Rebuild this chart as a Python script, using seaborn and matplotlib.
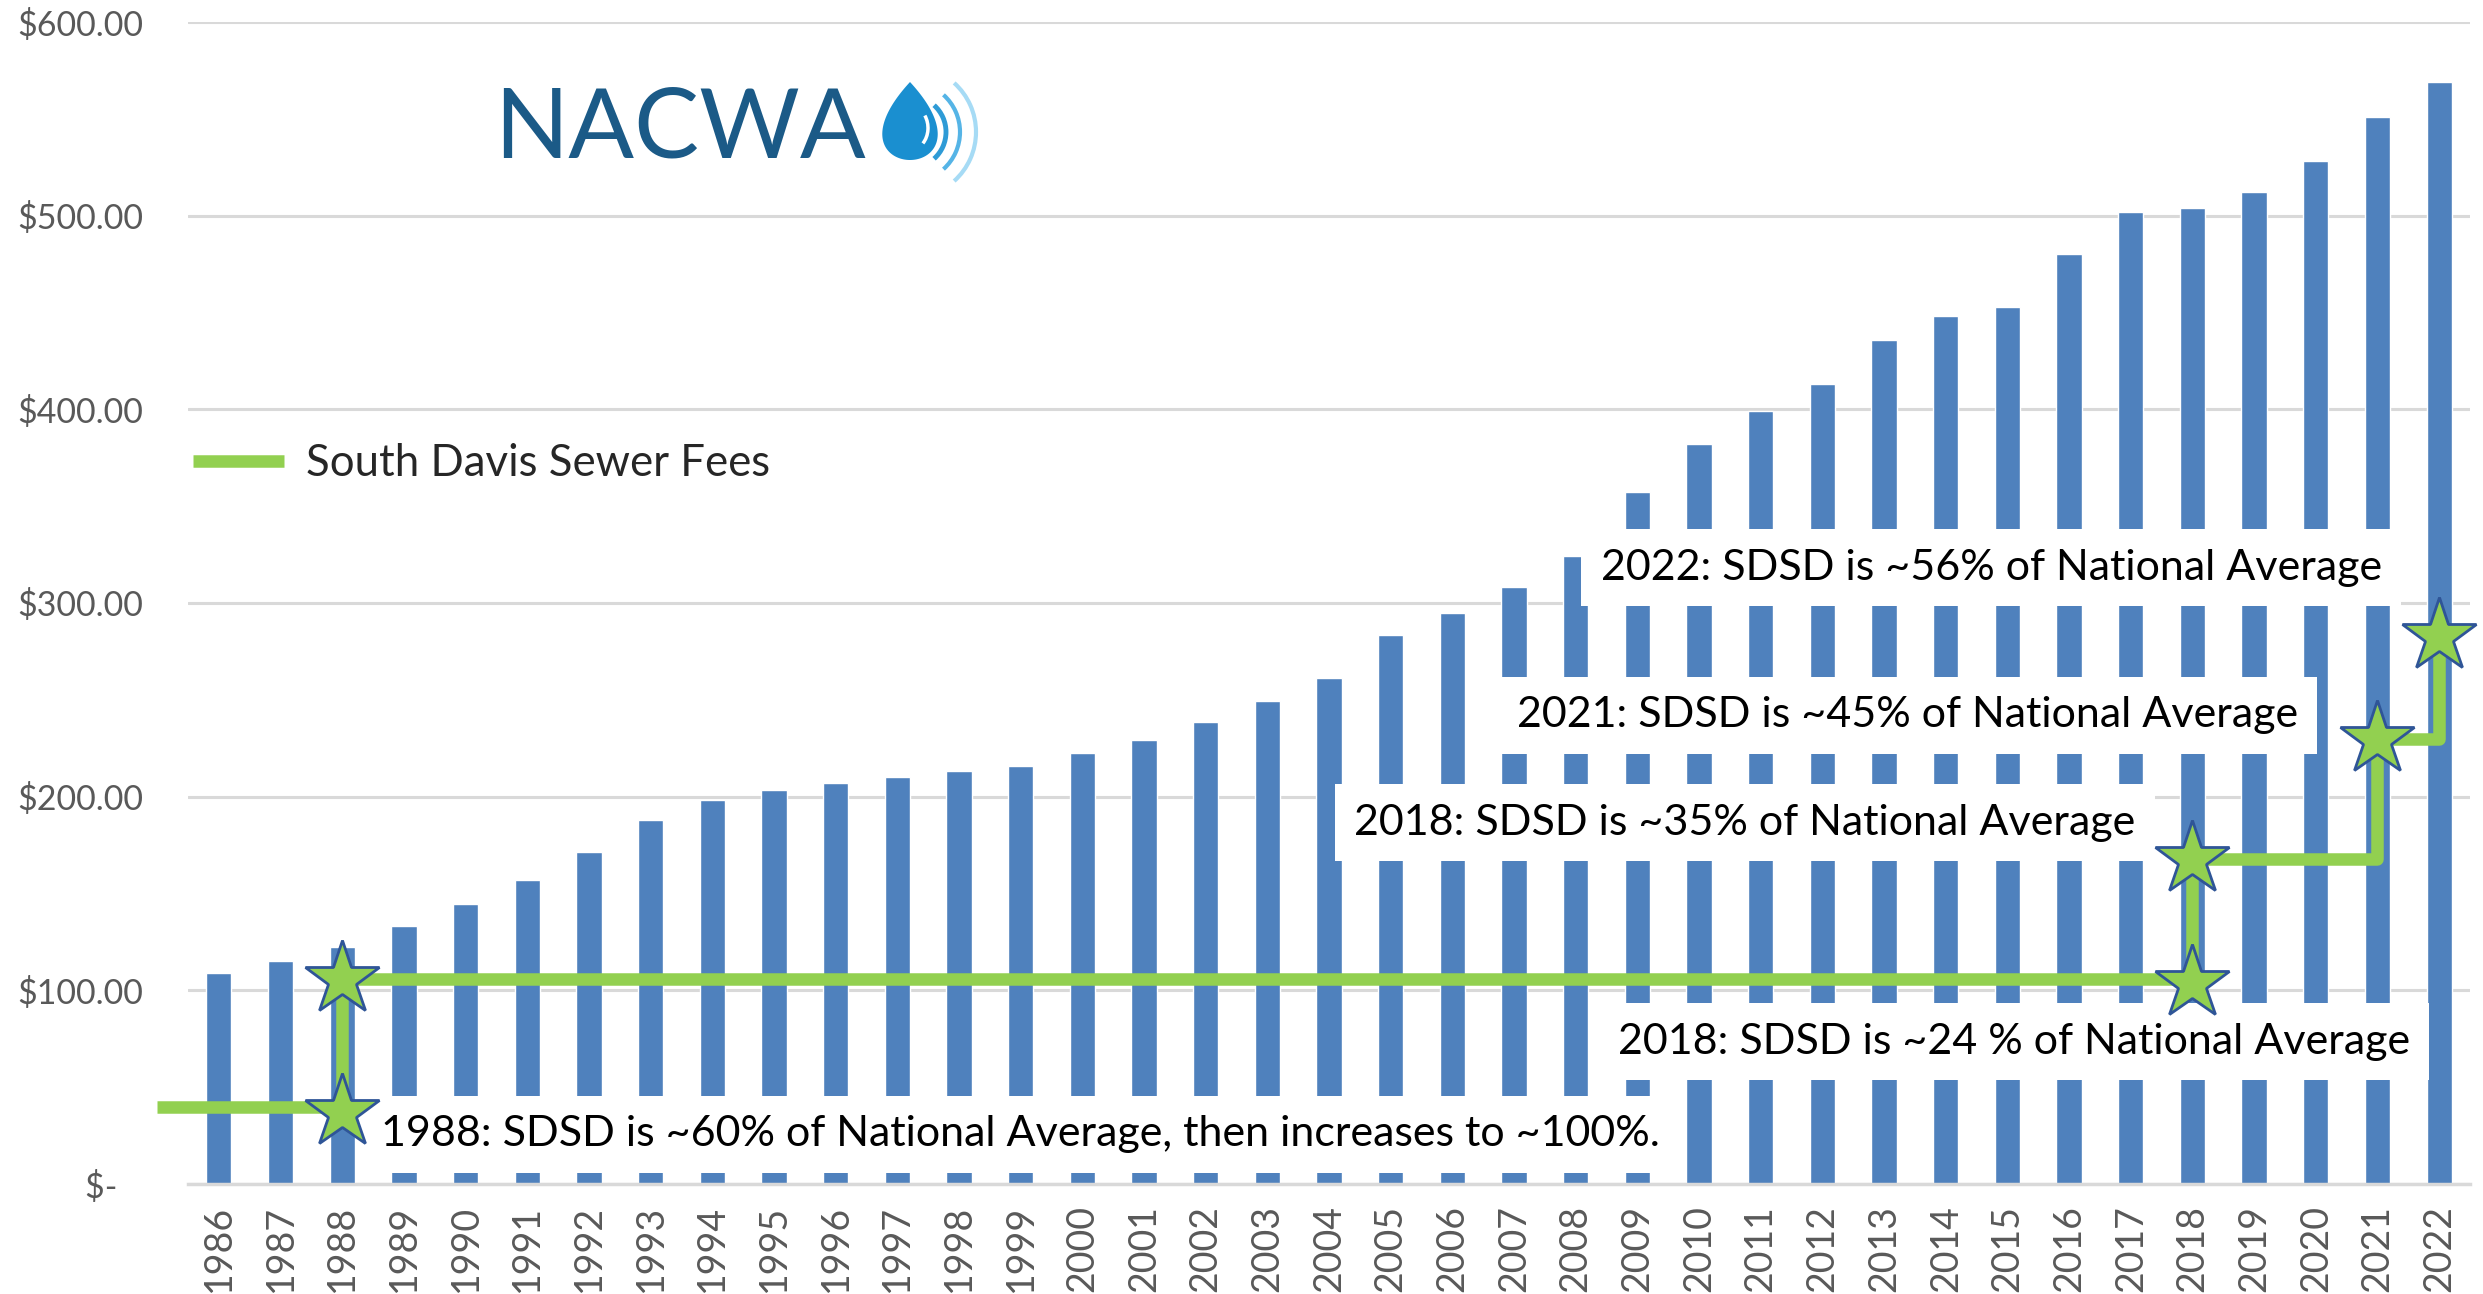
import numpy as np
import pandas as pd
import matplotlib
matplotlib.use("Agg")
import matplotlib.pyplot as plt
import seaborn as sns
from matplotlib.lines import Line2D
from matplotlib.patches import Polygon, Arc

# national average annual sewer charge (NACWA index)
years = list(range(1986, 2023))
national_avg = [109, 115, 122.5, 133, 144.5, 157, 171.5, 188, 198.5, 203.5,
                207, 210, 213.5, 216, 222.5, 229.5, 238.5, 249.5, 261.5, 283.5,
                295, 308.5, 324.5, 357.5, 382, 399, 413, 436, 448, 453,
                480, 502, 504, 512, 528, 551, 569]

# South Davis Sewer District fee, only the years where it changes
# (1985 is the lead-in stub drawn left of the axis)
sdsd_years = [1985, 1987, 1988, 2017, 2018, 2020, 2021, 2022]
sdsd_fees = [40, 40, 106, 106, 168, 168, 230, 283]

# star markers
star_years = [1988, 1988, 2018, 2018, 2021, 2022]
star_fees = [37, 106, 104, 168, 230, 283]

y_ticks = [0, 100, 200, 300, 400, 500, 600]
y_tick_labels = ["$-   ", "$100.00", "$200.00", "$300.00", "$400.00", "$500.00", "$600.00"]

notes = [
    "1988: SDSD is ~60% of National Average, then increases to ~100%.",
    "2018: SDSD is ~24 % of National Average",
    "2018: SDSD is ~35% of National Average",
    "2021: SDSD is ~45% of National Average",
    "2022: SDSD is ~56% of National Average",
]

BAR_BLUE = "#4F81BD"
GREEN = "#92D050"
STAR_EDGE = "#2F5597"
GRID = "#D9D9D9"
LABEL_GREY = "#595959"

sns.set_style("white")
plt.rcParams["font.family"] = ["Lato", "DejaVu Sans"]

W, H = 2483, 1294
fig = plt.figure(figsize=(W / 100, H / 100), dpi=100)
ax = fig.add_axes([188 / W, 1 - 1184 / H, (2470 - 188) / W, (1184 - 22) / H])

df = pd.DataFrame({"year": [str(y) for y in years], "avg": national_avg})
sns.barplot(data=df, x="year", y="avg", color=BAR_BLUE, saturation=1,
            width=0.41, ax=ax, zorder=2)

ax.set_xlim(-0.5, len(years) - 0.5)
ax.set_ylim(0, 600)
ax.set_xlabel("")
ax.set_ylabel("")

# grid + axes styling (Excel look)
ax.set_axisbelow(True)
ax.yaxis.grid(True, color=GRID, lw=2.2)
for side in ["left", "right", "top"]:
    ax.spines[side].set_visible(False)
ax.spines["bottom"].set_color(GRID)
ax.spines["bottom"].set_linewidth(2.5)

ax.set_yticks(y_ticks)
ax.set_yticklabels(y_tick_labels, color=LABEL_GREY, fontsize=24.5)
ax.tick_params(axis="y", length=0, pad=32)

ax.set_xticks(range(len(years)))
ax.set_xticklabels([str(y) for y in years], rotation=90, color=LABEL_GREY,
                   fontsize=27, va="top", ha="center")
ax.set_xticks(np.arange(-0.5, len(years), 1), minor=True)
ax.tick_params(axis="x", which="major", length=0, pad=15)
ax.tick_params(axis="x", which="minor", length=10, width=2, color=GRID)

# SDSD step line and stars
x_pos = [y - years[0] for y in sdsd_years]
ax.plot(x_pos, sdsd_fees, drawstyle="steps-post", color=GREEN, lw=9,
        solid_capstyle="butt", zorder=5, clip_on=False)
ax.plot([y - years[0] for y in star_years], star_fees, ls="none", marker="*",
        ms=56, mfc=GREEN, mec=STAR_EDGE, mew=2, zorder=6, clip_on=False)

# annotation boxes
box = dict(boxstyle="square,pad=0.45", fc="white", ec="none")
note_xy = [(13.0, 25.6), (29.1, 73.5), (24.74, 186.6), (27.38, 242), (28.74, 318.3)]
for txt, (nx, ny) in zip(notes, note_xy):
    ax.text(nx, ny, txt, ha="center", va="center", fontsize=31, color="black",
            bbox=box, zorder=4)

ax.legend(handles=[Line2D([], [], color=GREEN, lw=9, solid_capstyle="butt")],
          labels=["South Davis Sewer Fees"], loc="center left",
          bbox_to_anchor=(0.002, 0.62), frameon=False, fontsize=31.5,
          handlelength=2.1, handletextpad=0.5, borderpad=0, borderaxespad=0)

# NACWA logo, drawn in pixel space
logo = fig.add_axes([480 / W, 1 - 190 / H, 520 / W, 120 / H])
logo.set_xlim(480, 1000)
logo.set_ylim(190, 70)
logo.axis("off")
logo.text(494, 158, "NACWA", fontsize=70, color="#1B5A87",
          va="baseline", ha="left")
t = np.linspace(0, 2 * np.pi, 200)
drop_x = 910 + 36 * np.sin(t) * np.sin(t / 2)
drop_y = 121 - 39 * np.cos(t)
logo.add_patch(Polygon(np.column_stack([drop_x, drop_y]), closed=True,
                       fc="#1A8FD0", ec="none"))
logo.add_patch(Arc((910, 128), 36, 44, theta1=-40, theta2=50, color="white", lw=2.5))
for r, c, w in [(36, "#2E9BD6", 3.5), (50, "#55B4E6", 3), (66, "#A6DBF5", 3)]:
    logo.add_patch(Arc((910, 132), 2 * r, 2 * r, theta1=-48, theta2=48, color=c, lw=w))

fig.savefig("out.png", dpi=100)
